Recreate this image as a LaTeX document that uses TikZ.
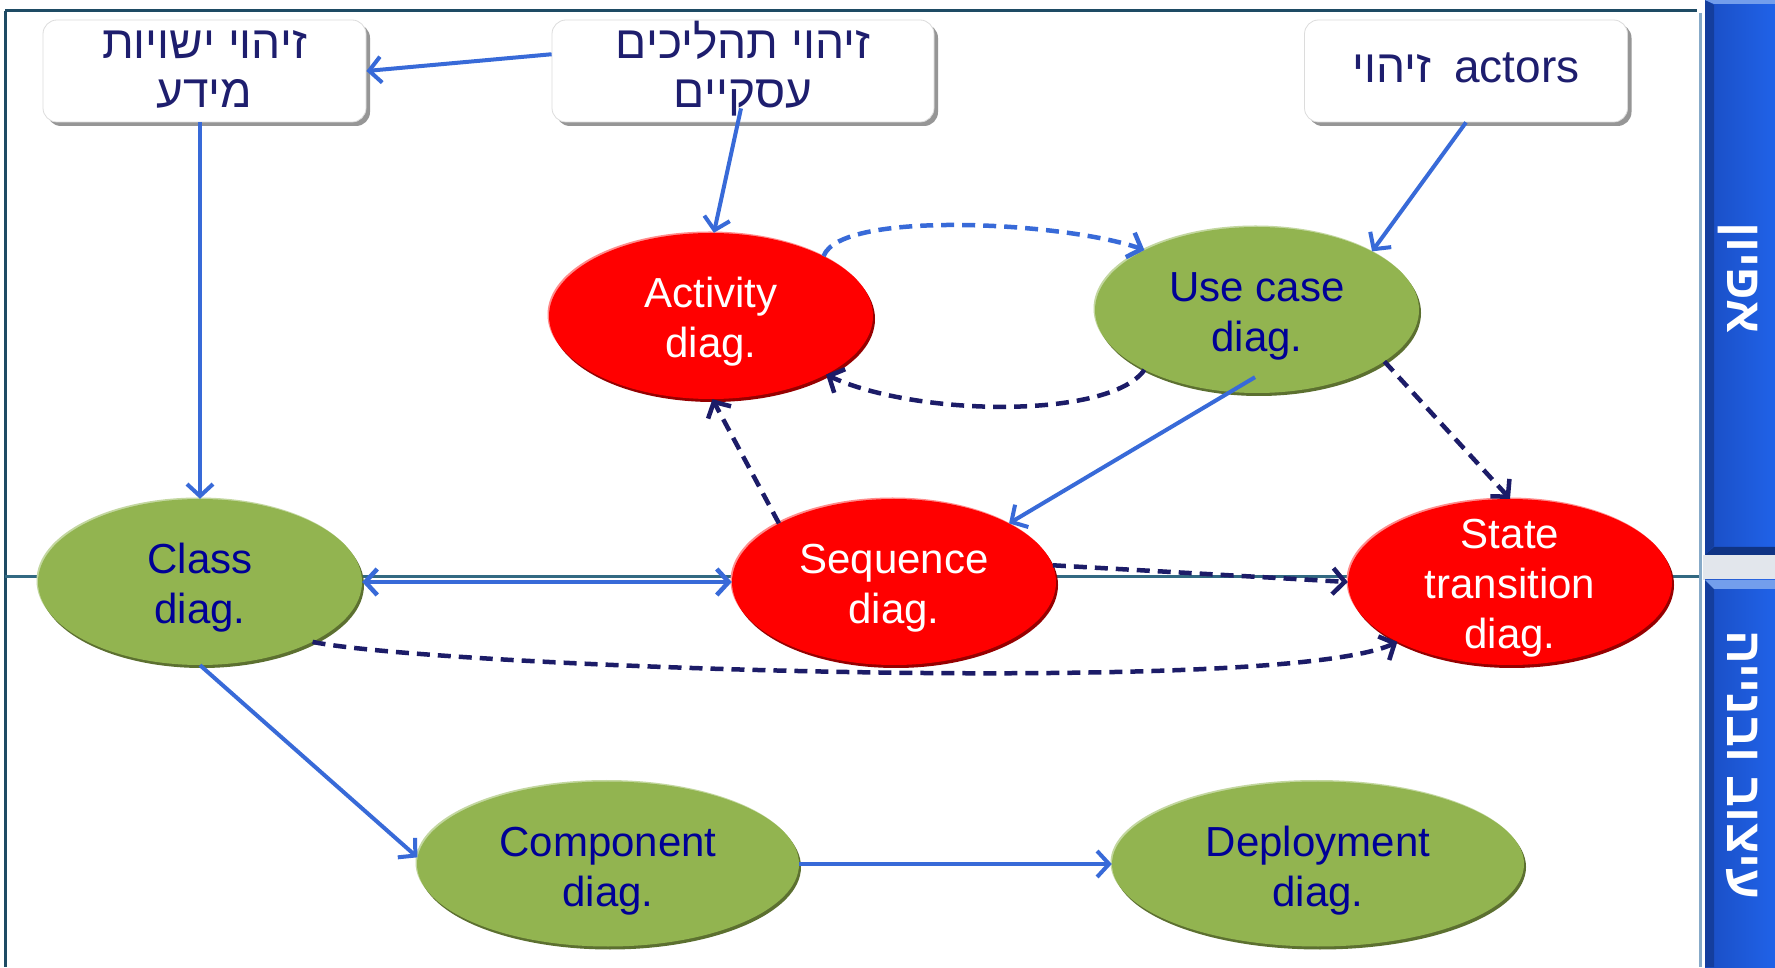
\documentclass[tikz,border=0pt]{standalone}
\usepackage{fontspec}
\setmainfont{Liberation Sans}
\newfontfamily\hebfont[Script=Hebrew]{Liberation Sans}
\TeXXeTstate=1
\usetikzlibrary{shapes.geometric,arrows.meta}

\definecolor{linkblue}{RGB}{56,106,216}
\definecolor{navy}{RGB}{28,28,104}
\definecolor{hebtext}{RGB}{30,30,110}
\definecolor{greentext}{RGB}{0,0,150}
\definecolor{leaf}{RGB}{146,180,80}
\definecolor{leafdark}{RGB}{92,112,48}
\definecolor{leaflight}{RGB}{195,215,160}
\definecolor{redfill}{RGB}{255,0,0}
\definecolor{reddark}{RGB}{150,0,0}
\definecolor{redlight}{RGB}{255,140,140}
\definecolor{frameteal}{RGB}{30,75,100}
\definecolor{midteal}{RGB}{50,105,130}
\definecolor{framelight}{RGB}{135,170,200}
\definecolor{barblue}{RGB}{32,98,232}
\definecolor{barmid}{RGB}{26,78,196}
\definecolor{barleft}{RGB}{20,62,158}
\definecolor{bartop}{RGB}{115,158,236}
\definecolor{barbottom}{RGB}{16,52,132}
\definecolor{boxedge}{RGB}{220,220,220}
\definecolor{boxshadow}{RGB}{150,150,150}
\definecolor{gapgray}{RGB}{226,230,236}

\tikzset{
  barb/.tip={Straight Barb[length=12pt,width=26pt]},
  taskbox/.style={rectangle, rounded corners=14pt, fill=white, draw=boxedge,
    line width=0.8pt, minimum height=102pt, inner sep=0pt, align=center,
    text=hebtext, font=\fontsize{46}{49}\selectfont\hebfont,
    text height=74pt, text depth=0pt,
    preaction={fill=boxshadow, draw=none, transform canvas={shift={(4pt,-4pt)}}}},
  diagell/.style={ellipse, minimum width=324pt, minimum height=166pt,
    inner sep=0pt, align=center, font=\fontsize{42}{50}\selectfont,
    text height=84pt, text depth=0pt},
  greenell/.style={diagell, fill=leaf, text=greentext,
    preaction={fill=leaflight, transform canvas={shift={(-1.5pt,1.5pt)}}},
    preaction={fill=leafdark, transform canvas={shift={(2pt,-3pt)}}}},
  redell/.style={diagell, fill=redfill, text=white,
    preaction={fill=redlight, transform canvas={shift={(-1.5pt,1.5pt)}}},
    preaction={fill=reddark, transform canvas={shift={(2pt,-3pt)}}}},
  solidlink/.style={draw=linkblue, line width=4pt, -barb},
  bluedash/.style={draw=linkblue, line width=4.5pt, dash pattern=on 13pt off 8pt, -barb},
  navydash/.style={draw=navy, line width=4.5pt, dash pattern=on 13pt off 8pt, -barb},
  barlabel/.style={rotate=-90, anchor=base, text=white,
    font=\fontsize{50}{50}\selectfont\bfseries\hebfont}
}

\begin{document}
\begin{tikzpicture}[x=1pt,y=1pt]
\useasboundingbox (0,0) rectangle (1775,967);
\fill[white] (0,0) rectangle (1775,967);

% frame of the two stages
\draw[frameteal, line width=3pt] (5,956) -- (1697,956);
\draw[frameteal, line width=3pt] (5,956) -- (5,0);
\draw[midteal, line width=3pt] (5,390) -- (1700,390);
\draw[framelight, line width=3pt] (1700,954) -- (1700,0);

% side bars
\fill[gapgray] (1703,387) rectangle (1775,412);
\fill[left color=barmid, right color=barblue] (1705,412) rectangle (1775,967);
\fill[barleft] (1705,412) -- (1714,421) -- (1714,962) -- (1705,967) -- cycle;
\fill[bartop] (1705,967) -- (1775,967) -- (1775,963) -- (1714,963) -- cycle;
\fill[barbottom] (1705,412) -- (1775,412) -- (1775,420) -- (1714,420) -- cycle;
\fill[left color=barmid, right color=barblue] (1705,0) rectangle (1775,387);
\fill[barleft] (1705,0) -- (1714,0) -- (1714,378) -- (1705,387) -- cycle;
\fill[bartop] (1705,387) -- (1775,387) -- (1775,378) -- (1714,378) -- cycle;
\node[barlabel] (stageA) at (1727,689) {\beginR אפיון\endR};
\node[barlabel] (stageB) at (1727,202) {\beginR עיצוב ובנייה\endR};

% identification boxes
\node[taskbox, minimum width=323pt] (b1) at (204.5,896)
  {\beginR זיהוי ישויות\endR\\\beginR מידע\endR};
\node[taskbox, minimum width=382pt] (b2) at (743,896)
  {\beginR זיהוי תהליכים\endR\\\beginR עסקיים\endR};
\node[taskbox, minimum width=323pt, text height=24pt] (b3) at (1466,896)
  {\beginR זיהוי\endR\hspace{0.5em}actors};

% diagrams
\node[redell] (act) at (711,651) {Activity\\diag.};
\node[greenell] (uc) at (1257,657) {Use case\\diag.};
\node[greenell] (cls) at (200,385) {Class\\diag.};
\node[redell] (seq) at (894,385) {Sequence\\diag.};
\node[redell, text height=134pt, inner ysep=-10pt] (st) at (1510,385) {State\\transition\\diag.};
\node[greenell, minimum width=382pt, minimum height=165pt] (comp) at (608,103) {Component\\diag.};
\node[greenell, minimum width=412pt, minimum height=165pt] (dep) at (1318,103) {Deployment\\diag.};

% connectors
\draw[solidlink] (b2.175) -- (b1.east);
\draw[solidlink] (cls.north |- b1.south) -- (cls.north);
\draw[solidlink] ([xshift=-2pt,yshift=14pt]b2.south) -- (act.88);
\draw[solidlink] (b3.south) -- (uc.27);
\draw[bluedash] (act.28) .. controls +(70:50) and +(160:80) .. (uc.152);
\draw[navydash] (uc.208) .. controls +(235:60) and +(-25:100) .. (act.-27);
\draw[solidlink] ([xshift=-2pt,yshift=16pt]uc.south) -- (seq.27);
\draw[navydash] (uc.-22) -- (st.north);
\draw[navydash] (seq.153) -- (act.-89);
\draw[solidlink, line width=4.5pt, barb-barb] (cls.east) -- (seq.west);
\draw[navydash] (seq.6) -- (st.west);
\draw[navydash] (cls.-28) .. controls +(-12:120) and +(205:130) .. (st.208);
\draw[solidlink] (cls.south) -- (comp.178);
\draw[solidlink] (comp.east) -- (dep.west);
\end{tikzpicture}
\end{document}
